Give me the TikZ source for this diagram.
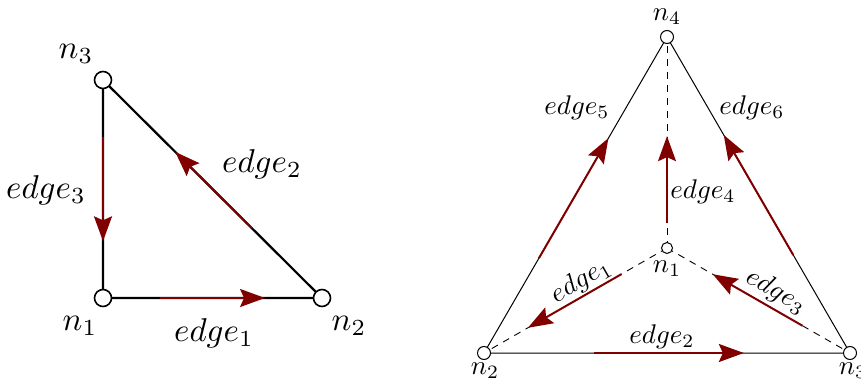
\documentclass[tikz,border=0pt]{standalone}
\usetikzlibrary{arrows.meta,calc}
\definecolor{edgered}{RGB}{128,0,0}
\begin{document}
\begin{tikzpicture}[x=1pt,y=-1pt,
  vtxL/.style={circle,draw,line width=1.6pt,fill=white,minimum size=17pt,inner sep=0pt},
  vtxR/.style={circle,draw,line width=1pt,fill=white,minimum size=13pt,inner sep=0pt},
  vtxC/.style={circle,draw,line width=1pt,fill=white,minimum size=11pt,inner sep=0pt},
  thickedge/.style={line width=2.2pt,black},
  thinedge/.style={line width=1pt,black},
  dashedge/.style={line width=0.9pt,black,dash pattern=on 7pt off 6pt},
  redarrow/.style={line width=2pt,edgered,-{Stealth[length=25pt,width=18pt,inset=4pt]}},
  bigtxt/.style={scale=3.3,inner sep=0pt},
  smalltxt/.style={scale=2.7,inner sep=0pt}]
\useasboundingbox (0,0) rectangle (861,387);
% ---------- left triangle ----------
\coordinate (L1) at (103,298);
\coordinate (L2) at (322,298);
\coordinate (L3) at (103,80);
\draw[thickedge] (L1) -- (L2) -- (L3) -- cycle;
\draw[redarrow] ($(L1)!0.26!(L2)$) -- ($(L1)!0.74!(L2)$);
\draw[redarrow] ($(L3)!0.26!(L1)$) -- ($(L3)!0.74!(L1)$);
\draw[redarrow] ($(L2)!0.32!(L3)$) -- ($(L2)!0.67!(L3)$);
\node[vtxL] (ln1) at (L1) {};
\node[vtxL] (ln2) at (L2) {};
\node[vtxL] (ln3) at (L3) {};
\node[bigtxt] (tln3) at (76,54) {$n_3$};
\node[bigtxt] (tln1) at (80,326) {$n_1$};
\node[bigtxt] (tln2) at (349,326) {$n_2$};
\node[bigtxt] (tle1) at (214,333) {$edge_1$};
\node[bigtxt] (tle2) at (262,164) {$edge_2$};
\node[bigtxt] (tle3) at (46,190) {$edge_3$};
% ---------- right tetrahedron ----------
\coordinate (R1) at (667,248);
\coordinate (R2) at (484,353);
\coordinate (R3) at (850,353);
\coordinate (R4) at (667,37);
\draw[thinedge] (R2) -- (R3) -- (R4) -- cycle;
\draw[dashedge] (R1) -- (R4);
\draw[dashedge] (R1) -- (R2);
\draw[dashedge] (R1) -- (R3);
\draw[redarrow] ($(R2)!0.30!(R4)$) -- ($(R2)!0.68!(R4)$);
\draw[redarrow] ($(R3)!0.31!(R4)$) -- ($(R3)!0.69!(R4)$);
\draw[redarrow] ($(R1)!0.12!(R4)$) -- ($(R1)!0.53!(R4)$);
\draw[redarrow] ($(R1)!0.25!(R2)$) -- ($(R1)!0.76!(R2)$);
\draw[redarrow] ($(R3)!0.26!(R1)$) -- ($(R3)!0.75!(R1)$);
\draw[redarrow] ($(R2)!0.30!(R3)$) -- ($(R2)!0.71!(R3)$);
\node[vtxC] (rn1) at (R1) {};
\node[vtxR] (rn2) at (R2) {};
\node[vtxR] (rn3) at (R3) {};
\node[vtxR] (rn4) at (R4) {};
\node[smalltxt] (trn4) at (667,16.5) {$n_4$};
\node[smalltxt] (trn1) at (667,269) {$n_1$};
\node[smalltxt] (trn2) at (485,371) {$n_2$};
\node[smalltxt] (trn3) at (853,371) {$n_3$};
\node[smalltxt] (tre5) at (577,108) {$edge_5$};
\node[smalltxt] (tre6) at (752,108) {$edge_6$};
\node[smalltxt] (tre4) at (703,192) {$edge_4$};
\node[smalltxt] (tre2) at (662,337) {$edge_2$};
\node[smalltxt,rotate=30] (tre1) at (581,281) {$edge_1$};
\node[smalltxt,rotate=-30] (tre3) at (776,292) {$edge_3$};
\end{tikzpicture}
\end{document}
